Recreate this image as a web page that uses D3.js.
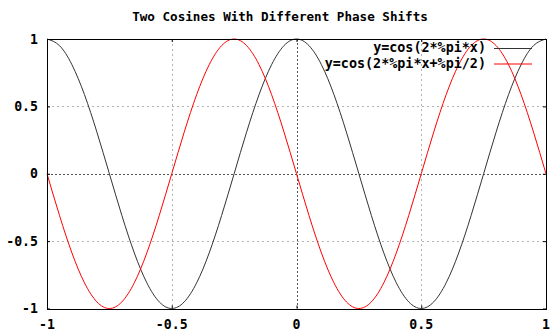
<!DOCTYPE html>
<html>
<head>
<meta charset="utf-8">
<script src="https://cdn.jsdelivr.net/npm/d3@7"></script>
<style>
  html, body { margin: 0; padding: 0; background: #fff; }
  svg { display: block; }
  text { font-family: "DejaVu Sans Mono", "Liberation Mono", monospace; font-weight: bold; fill: #000; }
</style>
</head>
<body>
<svg id="chart" width="552" height="332"></svg>
<script>
// ---- data ----
const title = "Two Cosines With Different Phase Shifts";
const seriesNames = ["y=cos(2*%pi*x)", "y=cos(2*%pi*x+%pi/2)"];
const seriesColors = ["#333333", "#ff0000"];
const xValues = [-1, -0.95, -0.9, -0.85, -0.8, -0.75, -0.7, -0.65, -0.6, -0.55,
  -0.5, -0.45, -0.4, -0.35, -0.3, -0.25, -0.2, -0.15, -0.1, -0.05,
  0, 0.05, 0.1, 0.15, 0.2, 0.25, 0.3, 0.35, 0.4, 0.45,
  0.5, 0.55, 0.6, 0.65, 0.7, 0.75, 0.8, 0.85, 0.9, 0.95, 1];
const cosValues = [1, 0.951, 0.809, 0.588, 0.309, 0, -0.309, -0.588, -0.809, -0.951,
  -1, -0.951, -0.809, -0.588, -0.309, 0, 0.309, 0.588, 0.809, 0.951,
  1, 0.951, 0.809, 0.588, 0.309, 0, -0.309, -0.588, -0.809, -0.951,
  -1, -0.951, -0.809, -0.588, -0.309, 0, 0.309, 0.588, 0.809, 0.951, 1];
const shiftedValues = [0, -0.309, -0.588, -0.809, -0.951, -1, -0.951, -0.809, -0.588, -0.309,
  0, 0.309, 0.588, 0.809, 0.951, 1, 0.951, 0.809, 0.588, 0.309,
  0, -0.309, -0.588, -0.809, -0.951, -1, -0.951, -0.809, -0.588, -0.309,
  0, 0.309, 0.588, 0.809, 0.951, 1, 0.951, 0.809, 0.588, 0.309, 0];
const xTicks = [-1, -0.5, 0, 0.5, 1];
const yTicks = [-1, -0.5, 0, 0.5, 1];
const xDomain = [-1, 1];
const yDomain = [-1, 1];

// ---- layout ----
const W = 552, H = 332;
const margin = { left: 47, right: 6, top: 39, bottom: 23.5 };
const svg = d3.select("#chart");
const x = d3.scaleLinear().domain(xDomain).range([margin.left, W - margin.right]);
const y = d3.scaleLinear().domain(yDomain).range([H - margin.bottom, margin.top]);
const fmt = d => (d === 0 ? "0" : String(d));

// grid lines
const grid = svg.append("g");
grid.selectAll("line.gx").data(xTicks.filter(d => d !== 0 && d !== -1 && d !== 1)).join("line")
  .attr("x1", d => Math.round(x(d)) + 0.5).attr("x2", d => Math.round(x(d)) + 0.5)
  .attr("y1", y(1)).attr("y2", y(-1))
  .attr("stroke", "#b4b4b4").attr("stroke-width", 1).attr("stroke-dasharray", "2,3");
grid.selectAll("line.gy").data(yTicks.filter(d => d !== 0 && d !== -1 && d !== 1)).join("line")
  .attr("y1", d => Math.round(y(d)) + 0.5).attr("y2", d => Math.round(y(d)) + 0.5)
  .attr("x1", x(-1)).attr("x2", x(1))
  .attr("stroke", "#b4b4b4").attr("stroke-width", 1).attr("stroke-dasharray", "2,3");
// zero axes
grid.append("line")
  .attr("x1", Math.round(x(0)) + 0.5).attr("x2", Math.round(x(0)) + 0.5)
  .attr("y1", y(1)).attr("y2", y(-1))
  .attr("stroke", "#555").attr("stroke-width", 1).attr("stroke-dasharray", "2,2");
grid.append("line")
  .attr("y1", Math.round(y(0)) + 0.5).attr("y2", Math.round(y(0)) + 0.5)
  .attr("x1", x(-1)).attr("x2", x(1))
  .attr("stroke", "#555").attr("stroke-width", 1).attr("stroke-dasharray", "2,2");

// axes (ticks inward, mirrored)
const tickLen = 3;
const axB = d3.axisBottom(x).tickValues(xTicks).tickSize(-tickLen).tickFormat("");
const axT = d3.axisTop(x).tickValues(xTicks).tickSize(-tickLen).tickFormat("");
const axL = d3.axisLeft(y).tickValues(yTicks).tickSize(-tickLen).tickFormat("");
const axR = d3.axisRight(y).tickValues(yTicks).tickSize(-tickLen).tickFormat("");
function styleAxis(g) { g.select(".domain").remove(); g.selectAll("line").attr("stroke", "#000"); }
svg.append("g").attr("transform", `translate(0,${y(-1)})`).call(axB).call(styleAxis);
svg.append("g").attr("transform", `translate(0,${y(1)})`).call(axT).call(styleAxis);
svg.append("g").attr("transform", `translate(${x(-1)},0)`).call(axL).call(styleAxis);
svg.append("g").attr("transform", `translate(${x(1)},0)`).call(axR).call(styleAxis);

// tick labels
svg.append("g").selectAll("text").data(xTicks).join("text")
  .attr("x", d => x(d)).attr("y", 329).attr("text-anchor", "middle")
  .attr("font-size", "13.2px").text(fmt);
svg.append("g").selectAll("text").data(yTicks).join("text")
  .attr("x", 38).attr("y", d => y(d) + 4.5).attr("text-anchor", "end")
  .attr("font-size", "13.2px").text(fmt);

// curves
const series = [cosValues, shiftedValues];
const line = d3.line().x(d => x(d[0])).y(d => y(d[1])).curve(d3.curveNatural);
series.forEach((vals, i) => {
  svg.append("path")
    .datum(xValues.map((xv, j) => [xv, vals[j]]))
    .attr("d", line)
    .attr("fill", "none")
    .attr("stroke", seriesColors[i])
    .attr("stroke-width", 1);
});

// frame
svg.append("rect")
  .attr("x", Math.round(x(-1)) + 0.5).attr("y", Math.round(y(1)) + 0.5)
  .attr("width", Math.round(x(1)) - Math.round(x(-1)))
  .attr("height", Math.round(y(-1)) - Math.round(y(1)))
  .attr("fill", "none").attr("stroke", "#000").attr("stroke-width", 1);

// legend
const legend = svg.append("g");
seriesNames.forEach((name, i) => {
  const ly = 52 + i * 15.5;
  legend.append("text").attr("x", 486).attr("y", ly).attr("text-anchor", "end")
    .attr("font-size", "13.4px").text(name);
  legend.append("line").attr("x1", 494).attr("x2", 532)
    .attr("y1", ly - 3.5).attr("y2", ly - 3.5)
    .attr("stroke", seriesColors[i]).attr("stroke-width", 1);
});

// title
svg.append("text").attr("x", 280).attr("y", 21).attr("text-anchor", "middle")
  .attr("font-size", "12.6px").text(title);
</script>
</body>
</html>
